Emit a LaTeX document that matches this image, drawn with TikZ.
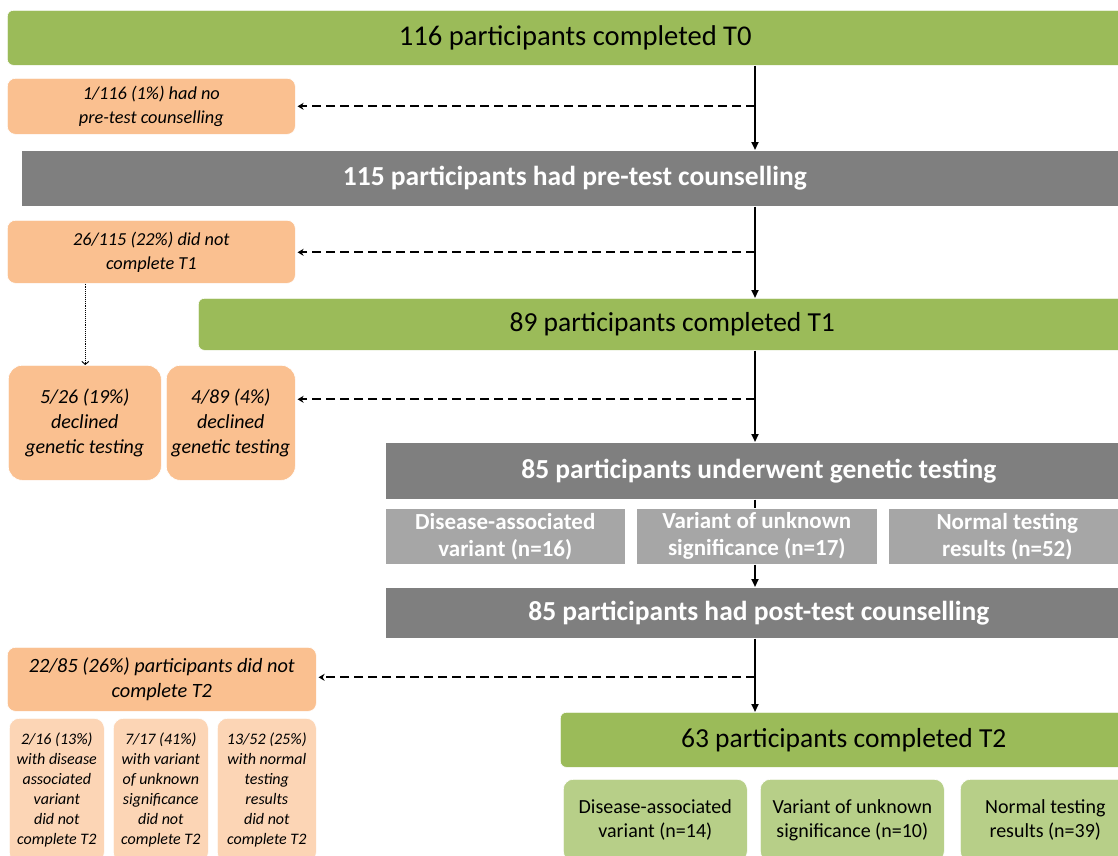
\documentclass[tikz,border=0pt]{standalone}
\usepackage{fontspec}
\setmainfont{Carlito}
\usetikzlibrary{arrows.meta}
\definecolor{cgreen}{HTML}{9BBB59}
\definecolor{corange}{HTML}{FAC090}
\definecolor{cgray}{HTML}{7F7F7F}
\definecolor{clgray}{HTML}{A6A6A6}
\definecolor{clorange}{HTML}{FCD5B5}
\definecolor{clgreen}{HTML}{B7CF88}
\tikzset{
  base/.style={anchor=north west, inner sep=2pt, align=center, draw=white, line width=0.6pt},
  greenbox/.style={base, fill=cgreen, rounded corners=6pt, text=black, font=\fontsize{27.5}{32}\selectfont},
  graybox/.style={base, fill=cgray, text=white, font=\bfseries\fontsize{27.5}{32}\selectfont},
  lgraybox/.style={base, fill=clgray, text=white, font=\bfseries\fontsize{23}{27}\selectfont},
  orangebox/.style={base, fill=corange, rounded corners=8pt, font=\itshape\fontsize{18.3}{24}\selectfont},
  declbox/.style={base, fill=corange, rounded corners=14pt, font=\itshape\fontsize{20}{25}\selectfont},
  smallbox/.style={base, fill=clorange, rounded corners=10pt, font=\itshape\fontsize{16}{20}\selectfont},
  lgreenbox/.style={base, fill=clgreen, rounded corners=10pt, font=\fontsize{20}{24}\selectfont},
  mainarrow/.style={line width=1.9pt, -{Triangle[length=8pt,width=7pt]}},
  mainline/.style={line width=1.9pt},
  dasharrow/.style={line width=2pt, dash pattern=on 9pt off 5pt, -{Stealth[length=6pt,width=7pt]}},
  dotarrow/.style={line width=0.9pt, densely dotted, -{Straight Barb[length=3pt,width=7pt]}},
}
\begin{document}
\begin{tikzpicture}[x=1pt,y=-1pt]
\clip (0,0) rectangle (1118,855);
\fill[white] (0,0) rectangle (1118,855);
% main boxes
\node[greenbox, font=\fontsize{28.6}{32}\selectfont, minimum width=1136pt, minimum height=55pt] (t0) at (7,10) {116 participants completed T0};
\node[orangebox, minimum width=288pt, minimum height=56pt] (o1) at (7,78) {1/116 (1\%) had no\\pre-test counselling};
\node[graybox, minimum width=1107pt, minimum height=56pt] (g115) at (21,150) {115 participants had pre-test counselling};
\node[orangebox, minimum width=288pt, minimum height=63pt] (o2) at (7,220) {26/115 (22\%) did not\\complete T1};
\node[greenbox, minimum width=948pt, minimum height=52pt] (g89) at (198,298) {89 participants completed T1};
\node[declbox, minimum width=153pt, minimum height=115pt] (d1) at (8,365) {5/26 (19\%)\\declined\\genetic testing};
\node[declbox, minimum width=129pt, minimum height=115pt] (d2) at (166,365) {4/89 (4\%)\\declined\\genetic testing};
\node[graybox, minimum width=747pt, minimum height=57pt] (g85) at (385,442) {85 participants underwent genetic testing};
\node[lgraybox, minimum width=240pt, minimum height=56pt] (lg1) at (385,508) {Disease-associated\\variant (n=16)};
\node[lgraybox, minimum width=241pt, minimum height=56pt] (lg2) at (636,508) {Variant of unknown\\significance (n=17)};
\node[lgraybox, minimum width=238pt, minimum height=56pt] (lg3) at (888,508) {Normal testing\\results (n=52)};
\node[graybox, minimum width=747pt, minimum height=51pt] (post) at (385,587) {85 participants had post-test counselling};
\node[orangebox, font=\itshape\fontsize{20.3}{25}\selectfont, minimum width=309pt, minimum height=64pt] (o3) at (7,647) {22/85 (26\%) participants did not\\complete T2};
\node[smallbox, minimum width=95pt, minimum height=144pt] (s1) at (9,718) {2/16 (13\%)\\with disease\\associated\\variant\\did not\\complete T2};
\node[smallbox, minimum width=95pt, minimum height=144pt] (s2) at (113,718) {7/17 (41\%)\\with variant\\of unknown\\significance\\did not\\complete T2};
\node[smallbox, minimum width=99pt, minimum height=144pt] (s3) at (217,718) {13/52 (25\%)\\with normal\\testing\\results\\did not\\complete T2};
\node[greenbox, minimum width=567pt, minimum height=55pt] (g63) at (560,712) {63 participants completed T2};
\node[lgreenbox, minimum width=184pt, minimum height=82pt] (lgr1) at (563,779) {Disease-associated\\variant (n=14)};
\node[lgreenbox, minimum width=184pt, minimum height=82pt] (lgr2) at (760,779) {Variant of unknown\\significance (n=10)};
\node[lgreenbox, minimum width=170pt, minimum height=82pt] (lgr3) at (960,779) {Normal testing\\results (n=39)};
% connectors
\coordinate (vx) at (755,0);
\draw[mainarrow] (t0.south -| vx) -- (g115.north -| vx);
\draw[mainarrow] (g115.south -| vx) -- (g89.north -| vx);
\draw[mainarrow] (g89.south -| vx) -- (g85.north -| vx);
\draw[mainline] (g85.south -| vx) -- (lg2.north -| vx);
\draw[mainarrow] (lg2.south -| vx) -- (post.north -| vx);
\draw[mainarrow] (post.south -| vx) -- (g63.north -| vx);
\draw[dasharrow] (vx |- o1.east) -- ([xshift=2pt]o1.east);
\draw[dasharrow] ([yshift=-0.5pt]vx |- o2.east) -- ([xshift=2pt,yshift=-0.5pt]o2.east);
\draw[dasharrow] ([yshift=23.5pt]vx |- d2.east) -- ([xshift=2pt,yshift=23.5pt]d2.east);
\draw[dasharrow] ([yshift=2pt]vx |- o3.east) -- ([xshift=2pt,yshift=2pt]o3.east);
\draw[dotarrow] ([xshift=-66pt]o2.south) -- ([xshift=-66pt]o2.south |- d1.north);
\end{tikzpicture}
\end{document}
